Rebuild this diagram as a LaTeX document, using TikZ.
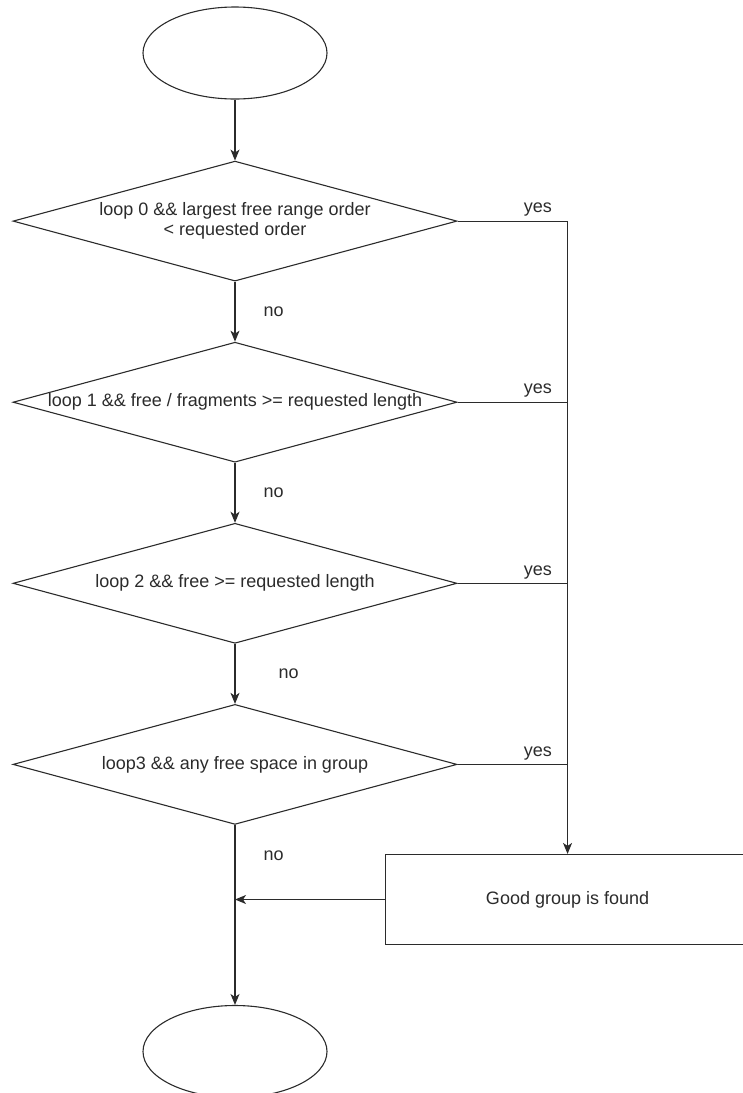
\documentclass[tikz,border=0pt]{standalone}
\usepackage{fontspec}
\setmainfont{Liberation Sans}
\usetikzlibrary{arrows.meta,positioning,shapes.geometric}
\definecolor{ink}{HTML}{2B2B2B}

\begin{document}
\begin{tikzpicture}[>={Stealth[length=11pt,width=9pt,inset=3pt]},
font=\fontsize{18pt}{20pt}\selectfont,color=ink,line width=1.1pt,
term/.style={ellipse,draw,minimum width=184pt,minimum height=92pt,inner sep=0pt},
decision/.style={diamond,aspect=3.7,draw,minimum width=444pt,minimum height=120pt,inner sep=0pt,align=center},
box/.style={rectangle,draw,minimum width=364pt,minimum height=90pt,align=center},
lbl/.style={inner sep=0pt}]
\useasboundingbox (0,0) rectangle (743pt,-1093pt);
\clip (0,0) rectangle (743pt,-1093pt);
\node[term] (start) at (235pt,-53pt) {};
\node[decision,below=61pt of start] (loop0) {loop 0 \&\& largest free range order\\< requested order};
\node[decision,below=60pt of loop0] (loop1) {loop 1 \&\& free / fragments >= requested length};
\node[decision,below=60pt of loop1] (loop2) {loop 2 \&\& free >= requested length};
\node[decision,below=60pt of loop2] (loop3) {loop3 \&\& any free space in group};
\node[term,below=180pt of loop3] (stop) {};
\coordinate (join) at ([xshift=110pt]loop0.east);
\coordinate (boxtop) at (loop3.south -| join);
\node[box,below=29pt of boxtop] (found) {Good group is found};
\draw[->] (start) -- (loop0);
\draw[->] (loop0) -- node[lbl,right=28pt]{no} (loop1);
\draw[->] (loop1) -- node[lbl,right=28pt]{no} (loop2);
\draw[->] (loop2) -- node[lbl,right=43pt]{no} (loop3);
\draw[->] (loop3) -- node[lbl,pos=.17,right=28pt]{no} (stop);
\draw (loop0.east) -- node[lbl,pos=.73,above=4pt]{yes} (join);
\draw (loop1.east) -- node[lbl,pos=.73,above=4pt]{yes} (loop1.east -| join);
\draw (loop2.east) -- node[lbl,pos=.73,above=4pt]{yes} (loop2.east -| join);
\draw (loop3.east) -- node[lbl,pos=.73,above=4pt]{yes} (loop3.east -| join);
\draw[->] (join) -- (found);
\draw[->] (found.west) -- (found.west -| loop3.south);
\end{tikzpicture}
\end{document}
